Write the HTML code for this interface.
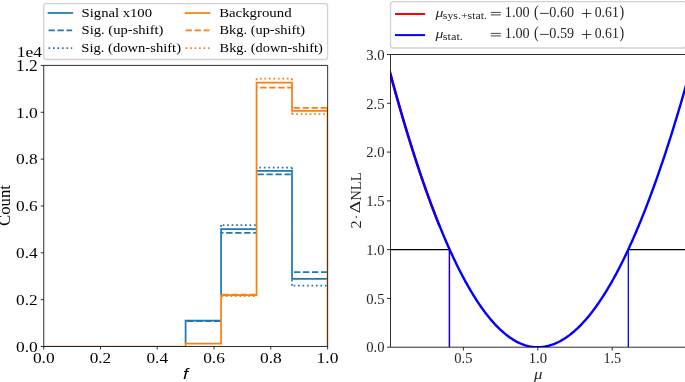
<!DOCTYPE html><html><head><meta charset="utf-8"><style>html,body{margin:0;padding:0;background:#fff;}svg{display:block;}text{white-space:pre;}</style></head><body>
<svg style="will-change:transform" width="685" height="382" viewBox="0 0 685 382">
<rect width="685" height="382" fill="#fff"/>
<defs><clipPath id="cl"><rect x="43.7" y="65.45" width="283.8" height="281.05"/></clipPath><clipPath id="cr"><rect x="390.5" y="54.5" width="300" height="292.7"/></clipPath></defs>
<g clip-path="url(#cl)" fill="none" stroke-linejoin="miter" stroke-linecap="butt">
<path d="M185.6,343.7V320.5H221.07M221.07,295V229H256.55M256.55,170.8H292.03V278.8H327.5" stroke="#1f77b4" stroke-width="1.75"/>
<line x1="185.6" y1="321.1" x2="221.07" y2="321.1" stroke="#1f77b4" stroke-width="1.75" stroke-dasharray="6.3 2.7" stroke-dashoffset="7.3"/>
<line x1="221.07" y1="232.9" x2="256.55" y2="232.9" stroke="#1f77b4" stroke-width="1.75" stroke-dasharray="6.3 2.7" stroke-dashoffset="3.88"/>
<line x1="256.55" y1="174.4" x2="292.03" y2="174.4" stroke="#1f77b4" stroke-width="1.75" stroke-dasharray="6.3 2.7" stroke-dashoffset="8.05"/>
<line x1="292.03" y1="272" x2="327.5" y2="272" stroke="#1f77b4" stroke-width="1.75" stroke-dasharray="6.3 2.7" stroke-dashoffset="7.03"/>
<line x1="185.6" y1="320.9" x2="221.07" y2="320.9" stroke="#1f77b4" stroke-width="1.75" stroke-dasharray="1.7 2.78" stroke-dashoffset="3.03"/>
<line x1="221.07" y1="225" x2="256.55" y2="225" stroke="#1f77b4" stroke-width="1.75" stroke-dasharray="1.7 2.78" stroke-dashoffset="2.9"/>
<line x1="256.55" y1="167.6" x2="292.03" y2="167.6" stroke="#1f77b4" stroke-width="1.75" stroke-dasharray="1.7 2.78" stroke-dashoffset="1.68"/>
<line x1="292.03" y1="285.7" x2="327.5" y2="285.7" stroke="#1f77b4" stroke-width="1.75" stroke-dasharray="1.7 2.78" stroke-dashoffset="2.96"/>
<line x1="221.07" y1="229" x2="221.07" y2="225" stroke="#1f77b4" stroke-width="1.75" stroke-dasharray="1.7 2.78" stroke-dashoffset="2.18"/>
<line x1="292.03" y1="167.6" x2="292.03" y2="170.8" stroke="#1f77b4" stroke-width="1.75" stroke-dasharray="1.7 2.78" stroke-dashoffset="0"/>
<line x1="292.03" y1="278.8" x2="292.03" y2="285.7" stroke="#1f77b4" stroke-width="1.75" stroke-dasharray="1.7 2.78" stroke-dashoffset="3.76"/>
<path d="M43.7,346.5V346.5H79.18V346.5H114.65V346.5H150.12V346.5H185.6V343.7H221.07V295H256.55V82.7H292.03V110.9H327.5V346.5" stroke="#ff7f0e" stroke-width="1.75"/>
<line x1="221.07" y1="294.6" x2="256.55" y2="294.6" stroke="#ff7f0e" stroke-width="1.75" stroke-dasharray="6.3 2.7" stroke-dashoffset="7.57"/>
<line x1="256.55" y1="87.7" x2="292.03" y2="87.7" stroke="#ff7f0e" stroke-width="1.75" stroke-dasharray="6.3 2.7" stroke-dashoffset="5.35"/>
<line x1="292.03" y1="107.8" x2="327.5" y2="107.8" stroke="#ff7f0e" stroke-width="1.75" stroke-dasharray="6.3 2.7" stroke-dashoffset="7.43"/>
<line x1="327.5" y1="107.8" x2="327.5" y2="110.9" stroke="#ff7f0e" stroke-width="1.75" stroke-dasharray="6.3 2.7" stroke-dashoffset="0"/>
<line x1="221.07" y1="296.1" x2="256.55" y2="296.1" stroke="#ff7f0e" stroke-width="1.75" stroke-dasharray="1.7 2.78" stroke-dashoffset="4.08"/>
<line x1="256.55" y1="78.5" x2="292.03" y2="78.5" stroke="#ff7f0e" stroke-width="1.75" stroke-dasharray="1.7 2.78" stroke-dashoffset="1.1"/>
<line x1="292.03" y1="114.2" x2="327.5" y2="114.2" stroke="#ff7f0e" stroke-width="1.75" stroke-dasharray="1.7 2.78" stroke-dashoffset="0.28"/>
<line x1="256.55" y1="82.7" x2="256.55" y2="78.5" stroke="#ff7f0e" stroke-width="1.75" stroke-dasharray="1.7 2.78" stroke-dashoffset="1.98"/>
<line x1="292.03" y1="78.5" x2="292.03" y2="82.7" stroke="#ff7f0e" stroke-width="1.75" stroke-dasharray="1.7 2.78" stroke-dashoffset="0"/>
<line x1="292.03" y1="110.9" x2="292.03" y2="114.2" stroke="#ff7f0e" stroke-width="1.75" stroke-dasharray="1.7 2.78" stroke-dashoffset="2.88"/>
</g>
<g stroke="#000" stroke-width="0.82" fill="none">
<path d="M43.75,346.5V65.4H327.65V346.5Z"/>
</g>
<g stroke="#000" stroke-width="0.82">
<line x1="43.75" y1="346.5" x2="43.75" y2="349.5"/>
<line x1="100.46" y1="346.5" x2="100.46" y2="349.5"/>
<line x1="157.22" y1="346.5" x2="157.22" y2="349.5"/>
<line x1="213.98" y1="346.5" x2="213.98" y2="349.5"/>
<line x1="270.74" y1="346.5" x2="270.74" y2="349.5"/>
<line x1="327.65" y1="346.5" x2="327.65" y2="349.5"/>
<line x1="40.75" y1="346.5" x2="43.75" y2="346.5"/>
<line x1="40.75" y1="299.66" x2="43.75" y2="299.66"/>
<line x1="40.75" y1="252.82" x2="43.75" y2="252.82"/>
<line x1="40.75" y1="205.97" x2="43.75" y2="205.97"/>
<line x1="40.75" y1="159.13" x2="43.75" y2="159.13"/>
<line x1="40.75" y1="112.29" x2="43.75" y2="112.29"/>
<line x1="40.75" y1="65.45" x2="43.75" y2="65.45"/>
</g>
<text x="32.93" y="362.78" font-family='"Liberation Serif", serif' font-size="15.59" textLength="21.73" lengthAdjust="spacingAndGlyphs" fill="#000">0.0</text>
<text x="89.7" y="362.78" font-family='"Liberation Serif", serif' font-size="15.59" textLength="21.57" lengthAdjust="spacingAndGlyphs" fill="#000">0.2</text>
<text x="146.46" y="362.78" font-family='"Liberation Serif", serif' font-size="15.59" textLength="21.57" lengthAdjust="spacingAndGlyphs" fill="#000">0.4</text>
<text x="203.21" y="362.78" font-family='"Liberation Serif", serif' font-size="15.59" textLength="21.63" lengthAdjust="spacingAndGlyphs" fill="#000">0.6</text>
<text x="259.97" y="362.78" font-family='"Liberation Serif", serif' font-size="15.59" textLength="21.72" lengthAdjust="spacingAndGlyphs" fill="#000">0.8</text>
<text x="316.64" y="362.78" font-family='"Liberation Serif", serif' font-size="15.59" textLength="21.83" lengthAdjust="spacingAndGlyphs" fill="#000">1.0</text>
<text x="16.1" y="351.78" font-family='"Liberation Serif", serif' font-size="15.59" textLength="21.73" lengthAdjust="spacingAndGlyphs" fill="#000">0.0</text>
<text x="16.1" y="304.94" font-family='"Liberation Serif", serif' font-size="15.59" textLength="21.57" lengthAdjust="spacingAndGlyphs" fill="#000">0.2</text>
<text x="16.1" y="258.09" font-family='"Liberation Serif", serif' font-size="15.59" textLength="21.57" lengthAdjust="spacingAndGlyphs" fill="#000">0.4</text>
<text x="16.1" y="211.25" font-family='"Liberation Serif", serif' font-size="15.59" textLength="21.63" lengthAdjust="spacingAndGlyphs" fill="#000">0.6</text>
<text x="16.1" y="164.41" font-family='"Liberation Serif", serif' font-size="15.59" textLength="21.72" lengthAdjust="spacingAndGlyphs" fill="#000">0.8</text>
<text x="16.01" y="117.57" font-family='"Liberation Serif", serif' font-size="15.59" textLength="21.83" lengthAdjust="spacingAndGlyphs" fill="#000">1.0</text>
<text x="16.02" y="70.73" font-family='"Liberation Serif", serif' font-size="15.66" textLength="21.66" lengthAdjust="spacingAndGlyphs" fill="#000">1.2</text>
<text x="16.76" y="56.65" font-family='"Liberation Serif", serif' font-size="15.22" textLength="25.32" lengthAdjust="spacingAndGlyphs" fill="#000">1e4</text>
<text transform="rotate(-90)" x="-225.99" y="10.1" font-family='"Liberation Serif", serif' font-size="15.71" textLength="40.99" lengthAdjust="spacingAndGlyphs" fill="#000">Count</text>
<text x="182.97" y="378.8" font-family='"Liberation Sans", sans-serif' font-size="15.17" font-style="italic" textLength="5.14" lengthAdjust="spacingAndGlyphs" fill="#000">f</text>
<rect x="43.7" y="3.6" width="283.90000000000003" height="55.9" rx="2.4" ry="2.4" fill="#fff" fill-opacity="0.8" stroke="#d2d2d2" stroke-width="1.3"/>
<g fill="none" stroke-linecap="butt">
<line x1="48.5" y1="13.0" x2="72.2" y2="13.0" stroke="#1f77b4" stroke-width="1.75" stroke-linecap="square"/>
<line x1="48.5" y1="30.4" x2="72.2" y2="30.4" stroke="#1f77b4" stroke-width="1.75" stroke-dasharray="6.3 2.7"/>
<line x1="48.5" y1="48.0" x2="72.2" y2="48.0" stroke="#1f77b4" stroke-width="1.75" stroke-dasharray="1.7 2.78"/>
<line x1="185.6" y1="13.0" x2="209.5" y2="13.0" stroke="#ff7f0e" stroke-width="1.75" stroke-linecap="square"/>
<line x1="185.6" y1="30.4" x2="209.5" y2="30.4" stroke="#ff7f0e" stroke-width="1.75" stroke-dasharray="6.3 2.7"/>
<line x1="185.6" y1="48.0" x2="209.5" y2="48.0" stroke="#ff7f0e" stroke-width="1.75" stroke-dasharray="1.7 2.78"/>
</g>
<text x="81.62" y="16.77" font-family='"Liberation Serif", serif' font-size="12.79" textLength="70.43" lengthAdjust="spacingAndGlyphs" fill="#000">Signal x100</text>
<text x="81.62" y="34.3" font-family='"Liberation Serif", serif' font-size="12.65" textLength="81.83" lengthAdjust="spacingAndGlyphs" fill="#000">Sig. (up-shift)</text>
<text x="81.32" y="51.8" font-family='"Liberation Serif", serif' font-size="12.65" textLength="99.72" lengthAdjust="spacingAndGlyphs" fill="#000">Sig. (down-shift)</text>
<text x="219.17" y="16.77" font-family='"Liberation Serif", serif' font-size="12.79" textLength="72.43" lengthAdjust="spacingAndGlyphs" fill="#000">Background</text>
<text x="219.48" y="34.3" font-family='"Liberation Serif", serif' font-size="12.65" textLength="85.59" lengthAdjust="spacingAndGlyphs" fill="#000">Bkg. (up-shift)</text>
<text x="219.58" y="51.8" font-family='"Liberation Serif", serif' font-size="12.65" textLength="103.15" lengthAdjust="spacingAndGlyphs" fill="#000">Bkg. (down-shift)</text>
<g clip-path="url(#cr)" fill="none">
<line x1="390.5" y1="249.63" x2="448.8" y2="249.63" stroke="#000" stroke-width="1.4"/>
<line x1="628.3" y1="249.63" x2="690" y2="249.63" stroke="#000" stroke-width="1.4"/>
<path d="M389.5,71.17 L390.5,74.89 L391.5,78.58 L392.5,82.24 L393.5,85.88 L394.5,89.5 L395.5,93.08 L396.5,96.65 L397.5,100.19 L398.5,103.7 L399.5,107.19 L400.5,110.65 L401.5,114.09 L402.5,117.5 L403.5,120.89 L404.5,124.25 L405.5,127.59 L406.5,130.9 L407.5,134.19 L408.5,137.45 L409.5,140.69 L410.5,143.9 L411.5,147.09 L412.5,150.25 L413.5,153.39 L414.5,156.5 L415.5,159.58 L416.5,162.64 L417.5,165.68 L418.5,168.69 L419.5,171.67 L420.5,174.63 L421.5,177.57 L422.5,180.48 L423.5,183.36 L424.5,186.22 L425.5,189.06 L426.5,191.86 L427.5,194.65 L428.5,197.41 L429.5,200.14 L430.5,202.85 L431.5,205.53 L432.5,208.19 L433.5,210.82 L434.5,213.43 L435.5,216.01 L436.5,218.57 L437.5,221.1 L438.5,223.61 L439.5,226.09" stroke="#ff0000" stroke-width="2.4" stroke-linejoin="round"/>
<line x1="449.3" y1="347.2" x2="449.3" y2="249.63" stroke="#ff0000" stroke-width="1.2"/>
<path d="M389.5,70.23 L390.5,73.96 L391.5,77.66 L392.5,81.34 L393.5,84.99 L394.5,88.62 L395.5,92.22 L396.5,95.79 L397.5,99.34 L398.5,102.87 L399.5,106.37 L400.5,109.84 L401.5,113.29 L402.5,116.72 L403.5,120.12 L404.5,123.49 L405.5,126.84 L406.5,130.17 L407.5,133.46 L408.5,136.74 L409.5,139.98 L410.5,143.21 L411.5,146.4 L412.5,149.58 L413.5,152.72 L414.5,155.84 L415.5,158.94 L416.5,162.01 L417.5,165.06 L418.5,168.08 L419.5,171.07 L420.5,174.04 L421.5,176.99 L422.5,179.91 L423.5,182.8 L424.5,185.67 L425.5,188.52 L426.5,191.33 L427.5,194.13 L428.5,196.9 L429.5,199.64 L430.5,202.36 L431.5,205.05 L432.5,207.71 L433.5,210.36 L434.5,212.97 L435.5,215.56 L436.5,218.13 L437.5,220.67 L438.5,223.19 L439.5,225.68 L440.5,228.14 L441.5,230.58 L442.5,233 L443.5,235.38 L444.5,237.75 L445.5,240.09 L446.5,242.4 L447.5,244.69 L448.5,246.95 L449.5,249.19 L450.5,251.4 L451.5,253.59 L452.5,255.75 L453.5,257.89 L454.5,260 L455.5,262.08 L456.5,264.15 L457.5,266.18 L458.5,268.19 L459.5,270.18 L460.5,272.14 L461.5,274.07 L462.5,275.98 L463.5,277.86 L464.5,279.72 L465.5,281.56 L466.5,283.36 L467.5,285.15 L468.5,286.91 L469.5,288.64 L470.5,290.34 L471.5,292.03 L472.5,293.68 L473.5,295.32 L474.5,296.92 L475.5,298.5 L476.5,300.06 L477.5,301.59 L478.5,303.09 L479.5,304.57 L480.5,306.03 L481.5,307.46 L482.5,308.86 L483.5,310.24 L484.5,311.59 L485.5,312.92 L486.5,314.23 L487.5,315.5 L488.5,316.76 L489.5,317.98 L490.5,319.19 L491.5,320.36 L492.5,321.52 L493.5,322.64 L494.5,323.74 L495.5,324.82 L496.5,325.87 L497.5,326.89 L498.5,327.89 L499.5,328.87 L500.5,329.82 L501.5,330.74 L502.5,331.64 L503.5,332.52 L504.5,333.36 L505.5,334.19 L506.5,334.99 L507.5,335.76 L508.5,336.51 L509.5,337.23 L510.5,337.93 L511.5,338.6 L512.5,339.24 L513.5,339.87 L514.5,340.46 L515.5,341.03 L516.5,341.58 L517.5,342.1 L518.5,342.59 L519.5,343.06 L520.5,343.51 L521.5,343.93 L522.5,344.32 L523.5,344.69 L524.5,345.03 L525.5,345.35 L526.5,345.64 L527.5,345.91 L528.5,346.15 L529.5,346.37 L530.5,346.56 L531.5,346.73 L532.5,346.87 L533.5,346.99 L534.5,347.08 L535.5,347.14 L536.5,347.18 L537.5,347.2 L538.5,347.19 L539.5,347.16 L540.5,347.1 L541.5,347.02 L542.5,346.91 L543.5,346.79 L544.5,346.63 L545.5,346.46 L546.5,346.26 L547.5,346.04 L548.5,345.79 L549.5,345.52 L550.5,345.22 L551.5,344.9 L552.5,344.56 L553.5,344.2 L554.5,343.81 L555.5,343.39 L556.5,342.95 L557.5,342.49 L558.5,342.01 L559.5,341.5 L560.5,340.97 L561.5,340.41 L562.5,339.83 L563.5,339.23 L564.5,338.6 L565.5,337.95 L566.5,337.27 L567.5,336.57 L568.5,335.85 L569.5,335.1 L570.5,334.33 L571.5,333.54 L572.5,332.72 L573.5,331.88 L574.5,331.02 L575.5,330.13 L576.5,329.21 L577.5,328.28 L578.5,327.32 L579.5,326.33 L580.5,325.32 L581.5,324.29 L582.5,323.24 L583.5,322.16 L584.5,321.05 L585.5,319.93 L586.5,318.78 L587.5,317.6 L588.5,316.4 L589.5,315.18 L590.5,313.94 L591.5,312.67 L592.5,311.37 L593.5,310.06 L594.5,308.72 L595.5,307.35 L596.5,305.96 L597.5,304.55 L598.5,303.12 L599.5,301.66 L600.5,300.17 L601.5,298.67 L602.5,297.13 L603.5,295.58 L604.5,294 L605.5,292.4 L606.5,290.77 L607.5,289.12 L608.5,287.45 L609.5,285.75 L610.5,284.03 L611.5,282.29 L612.5,280.52 L613.5,278.73 L614.5,276.91 L615.5,275.07 L616.5,273.21 L617.5,271.32 L618.5,269.41 L619.5,267.47 L620.5,265.51 L621.5,263.53 L622.5,261.52 L623.5,259.49 L624.5,257.44 L625.5,255.36 L626.5,253.26 L627.5,251.14 L628.5,248.99 L629.5,246.81 L630.5,244.62 L631.5,242.4 L632.5,240.15 L633.5,237.88 L634.5,235.59 L635.5,233.28 L636.5,230.94 L637.5,228.58 L638.5,226.19 L639.5,223.78 L640.5,221.34 L641.5,218.89 L642.5,216.4 L643.5,213.9 L644.5,211.37 L645.5,208.82 L646.5,206.24 L647.5,203.64 L648.5,201.01 L649.5,198.36 L650.5,195.69 L651.5,193 L652.5,190.28 L653.5,187.53 L654.5,184.77 L655.5,181.98 L656.5,179.16 L657.5,176.32 L658.5,173.46 L659.5,170.57 L660.5,167.67 L661.5,164.73 L662.5,161.77 L663.5,158.79 L664.5,155.79 L665.5,152.76 L666.5,149.71 L667.5,146.63 L668.5,143.53 L669.5,140.41 L670.5,137.26 L671.5,134.09 L672.5,130.89 L673.5,127.68 L674.5,124.43 L675.5,121.17 L676.5,117.88 L677.5,114.56 L678.5,111.22 L679.5,107.86 L680.5,104.48 L681.5,101.07 L682.5,97.64 L683.5,94.18 L684.5,90.7 L685.5,87.2 L686.5,83.67 L687.5,80.12 L688.5,76.54 L689.5,72.94" stroke="#0000ff" stroke-width="2.4" stroke-linejoin="round"/>
<line x1="449.5" y1="347.2" x2="449.5" y2="249.63" stroke="#0000ff" stroke-width="1.3"/>
<line x1="628.3" y1="347.2" x2="628.3" y2="249.63" stroke="#0000ff" stroke-width="1.3"/>
</g>
<g stroke="#000" stroke-width="0.82" fill="none">
<path d="M700,54.5H390.5V347.2H700"/>
<line x1="463.4" y1="347.2" x2="463.4" y2="350.5"/>
<line x1="537.8" y1="347.2" x2="537.8" y2="350.5"/>
<line x1="612.2" y1="347.2" x2="612.2" y2="350.5"/>
<line x1="387" y1="347.2" x2="390.5" y2="347.2"/>
<line x1="387" y1="298.42" x2="390.5" y2="298.42"/>
<line x1="387" y1="249.63" x2="390.5" y2="249.63"/>
<line x1="387" y1="200.85" x2="390.5" y2="200.85"/>
<line x1="387" y1="152.07" x2="390.5" y2="152.07"/>
<line x1="387" y1="103.28" x2="390.5" y2="103.28"/>
<line x1="387" y1="54.5" x2="390.5" y2="54.5"/>
</g>
<text x="366.29" y="352.49" font-family='"Liberation Serif", serif' font-size="15.32" textLength="18.26" lengthAdjust="spacingAndGlyphs" fill="#262626">0.0</text>
<text x="366.29" y="303.7" font-family='"Liberation Serif", serif' font-size="15.32" textLength="18.28" lengthAdjust="spacingAndGlyphs" fill="#262626">0.5</text>
<text x="366.32" y="254.92" font-family='"Liberation Serif", serif' font-size="15.32" textLength="18.24" lengthAdjust="spacingAndGlyphs" fill="#262626">1.0</text>
<text x="366.31" y="206.13" font-family='"Liberation Serif", serif' font-size="15.43" textLength="18.25" lengthAdjust="spacingAndGlyphs" fill="#262626">1.5</text>
<text x="366.2" y="157.35" font-family='"Liberation Serif", serif' font-size="15.32" textLength="18.35" lengthAdjust="spacingAndGlyphs" fill="#262626">2.0</text>
<text x="366.2" y="108.57" font-family='"Liberation Serif", serif' font-size="15.38" textLength="18.37" lengthAdjust="spacingAndGlyphs" fill="#262626">2.5</text>
<text x="366.14" y="59.79" font-family='"Liberation Serif", serif' font-size="15.32" textLength="18.42" lengthAdjust="spacingAndGlyphs" fill="#262626">3.0</text>
<text x="454.25" y="363.38" font-family='"Liberation Serif", serif' font-size="15.46" textLength="18.22" lengthAdjust="spacingAndGlyphs" fill="#262626">0.5</text>
<text x="528.71" y="363.38" font-family='"Liberation Serif", serif' font-size="15.46" textLength="18.35" lengthAdjust="spacingAndGlyphs" fill="#262626">1.0</text>
<text x="603.45" y="363.38" font-family='"Liberation Serif", serif' font-size="15.58" textLength="17.81" lengthAdjust="spacingAndGlyphs" fill="#262626">1.5</text>
<text x="534.02" y="379.25" font-family='"Liberation Serif", serif' font-size="14.26" font-style="italic" textLength="8.44" lengthAdjust="spacingAndGlyphs" fill="#262626">μ</text>
<text transform="rotate(-90)" x="-228.61" y="360.7" font-family='"Liberation Serif", serif' font-size="14.65" textLength="8.1" lengthAdjust="spacingAndGlyphs" fill="#262626">2</text>
<text transform="rotate(-90)" x="-213.24" y="360.3" font-family='"Liberation Serif", serif' font-size="14.55" textLength="12.48" lengthAdjust="spacingAndGlyphs" fill="#262626">Δ</text>
<text transform="rotate(-90)" x="-200.83" y="360.5" font-family='"Liberation Serif", serif' font-size="14.96" textLength="28.71" lengthAdjust="spacingAndGlyphs" fill="#262626">NLL</text>
<circle cx="356.3" cy="217.0" r="0.75" fill="#000"/>
<rect x="390.5" y="1.6" width="295.29999999999995" height="46.4" rx="2.8" ry="2.8" fill="#fff" fill-opacity="0.8" stroke="#d2d2d2" stroke-width="1.3"/>
<line x1="395" y1="14" x2="425.1" y2="14" stroke="#ff0000" stroke-width="2.0"/>
<line x1="395" y1="35.1" x2="425.1" y2="35.1" stroke="#0000ff" stroke-width="2.0"/>
<text x="435.62" y="17.2" font-family='"Liberation Serif", serif' font-size="12.63" font-style="italic" textLength="7.9" lengthAdjust="spacingAndGlyphs" fill="#262626">μ</text>
<text x="442.81" y="19.44" font-family='"Liberation Serif", serif' font-size="9.99" textLength="44.17" lengthAdjust="spacingAndGlyphs" fill="#262626">sys.+stat.</text>
<g stroke="#000" stroke-width="0.75"><line x1="490.8" y1="12.4" x2="500.8" y2="12.4"/><line x1="490.8" y1="14.9" x2="500.8" y2="14.9"/><line x1="539.9" y1="13.4" x2="548.8" y2="13.4"/><line x1="581.8" y1="13.5" x2="591.3" y2="13.5"/><line x1="586.55" y1="8.9" x2="586.55" y2="17.9"/></g>
<text x="504.85" y="17.49" font-family='"Liberation Serif", serif' font-size="14.87" textLength="24.89" lengthAdjust="spacingAndGlyphs" fill="#262626">1.00</text>
<text x="534.08" y="17.47" font-family='"Liberation Serif", serif' font-size="15.66" textLength="4.66" lengthAdjust="spacingAndGlyphs" fill="#262626">(</text>
<text x="549.36" y="17.49" font-family='"Liberation Serif", serif' font-size="14.87" textLength="24.78" lengthAdjust="spacingAndGlyphs" fill="#262626">0.60</text>
<text x="594.68" y="17.49" font-family='"Liberation Serif", serif' font-size="14.87" textLength="24.15" lengthAdjust="spacingAndGlyphs" fill="#262626">0.61</text>
<text x="619.45" y="17.47" font-family='"Liberation Serif", serif' font-size="15.66" textLength="4.66" lengthAdjust="spacingAndGlyphs" fill="#262626">)</text>
<text x="435.62" y="38.2" font-family='"Liberation Serif", serif' font-size="12.63" font-style="italic" textLength="7.9" lengthAdjust="spacingAndGlyphs" fill="#262626">μ</text>
<text x="442.8" y="40.36" font-family='"Liberation Serif", serif' font-size="9.88" textLength="20.11" lengthAdjust="spacingAndGlyphs" fill="#262626">stat.</text>
<g stroke="#000" stroke-width="0.75"><line x1="490.8" y1="33.4" x2="500.8" y2="33.4"/><line x1="490.8" y1="35.9" x2="500.8" y2="35.9"/><line x1="539.9" y1="34.4" x2="548.8" y2="34.4"/><line x1="581.8" y1="34.5" x2="591.3" y2="34.5"/><line x1="586.55" y1="29.9" x2="586.55" y2="38.9"/></g>
<text x="504.85" y="38.49" font-family='"Liberation Serif", serif' font-size="14.87" textLength="24.89" lengthAdjust="spacingAndGlyphs" fill="#262626">1.00</text>
<text x="534.08" y="38.47" font-family='"Liberation Serif", serif' font-size="15.66" textLength="4.66" lengthAdjust="spacingAndGlyphs" fill="#262626">(</text>
<text x="549.36" y="38.49" font-family='"Liberation Serif", serif' font-size="14.87" textLength="24.82" lengthAdjust="spacingAndGlyphs" fill="#262626">0.59</text>
<text x="594.68" y="38.49" font-family='"Liberation Serif", serif' font-size="14.87" textLength="24.15" lengthAdjust="spacingAndGlyphs" fill="#262626">0.61</text>
<text x="619.45" y="38.47" font-family='"Liberation Serif", serif' font-size="15.66" textLength="4.66" lengthAdjust="spacingAndGlyphs" fill="#262626">)</text>
</svg></body></html>
